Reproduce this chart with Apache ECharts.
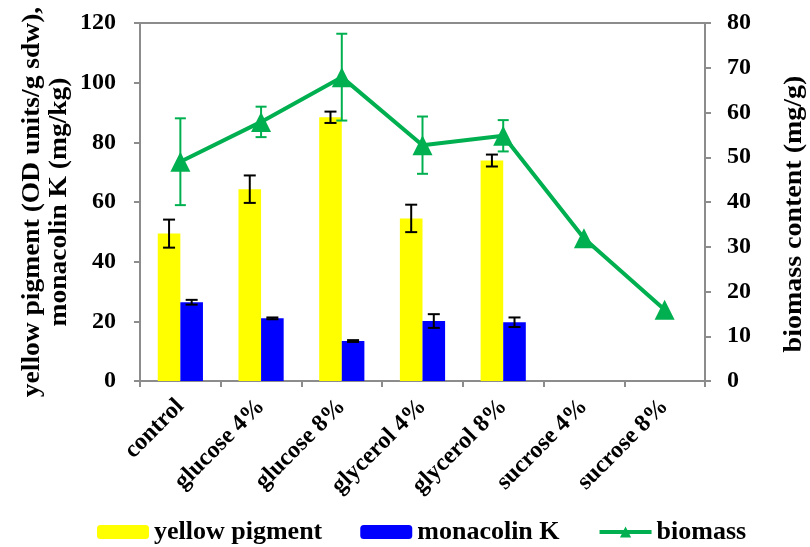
<!DOCTYPE html>
<html><head><meta charset="utf-8">
<script src="https://cdn.jsdelivr.net/npm/echarts@6/dist/echarts.min.js"></script>
<style>html,body{margin:0;padding:0;background:#fff}#c{width:810px;height:547px}</style>
</head><body><div id="c"></div>
<script>
const categories = ['control','glucose 4%','glucose 8%','glycerol 4%','glycerol 8%','sucrose 4%','sucrose 8%'];
const yellowPigment = [49.4, 64.3, 88.4, 54.5, 73.9, null, null];
const yellowErr = [4.7, 4.6, 1.9, 4.6, 2.0, null, null];
const monacolinK = [26.4, 21.0, 13.4, 20.1, 19.7, null, null];
const monacolinErr = [0.8, 0.3, 0.3, 2.3, 1.6, null, null];
const biomass = [49.0, 57.9, 67.9, 52.7, 54.8, 31.9, 15.9];
const biomassErr = [9.7, 3.4, 9.7, 6.4, 3.5, null, null];
const leftTicks = {min: 0, max: 120, interval: 20};
const rightTicks = {min: 0, max: 80, interval: 10};

const FONT = '"Liberation Serif", "Times New Roman", serif';
const AXIS_COLOR = '#8c8c8c';
const GREEN = '#00B050';

function errData(vals, errs) {
  const out = [];
  vals.forEach((v, i) => { if (v != null && errs[i] != null) out.push([i, v, errs[i]]); });
  return out;
}
function errRender(offsetFrac, color, lw, capHalf) {
  return function (params, api) {
    const i = api.value(0), v = api.value(1), e = api.value(2);
    const band = api.size([1, 0])[0];
    const top = api.coord([i, v + e]);
    const bot = api.coord([i, v - e]);
    const x = top[0] + band * offsetFrac;
    const st = {stroke: color, lineWidth: lw};
    return {type: 'group', children: [
      {type: 'line', shape: {x1: x, y1: top[1], x2: x, y2: bot[1]}, style: st},
      {type: 'line', shape: {x1: x - capHalf, y1: top[1], x2: x + capHalf, y2: top[1]}, style: st},
      {type: 'line', shape: {x1: x - capHalf, y1: bot[1], x2: x + capHalf, y2: bot[1]}, style: st}
    ]};
  };
}

const chart = echarts.init(document.getElementById('c'));
chart.setOption({
  animation: false,
  textStyle: {fontFamily: FONT},
  grid: {left: 140, right: 105, top: 23, bottom: 166, show: true, borderColor: AXIS_COLOR, borderWidth: 2},
  legend: {
    left: 92, top: 514, itemWidth: 52, itemHeight: 14, itemGap: 38,
    lineStyle: {width: 4},
    textStyle: {fontFamily: FONT, fontWeight: 'bold', fontSize: 26, color: '#000'},
    data: ['yellow pigment', 'monacolin K', 'biomass']
  },
  xAxis: {
    type: 'category', data: categories, boundaryGap: true,
    axisLine: {lineStyle: {color: AXIS_COLOR, width: 2}},
    axisTick: {show: true, length: 6, lineStyle: {color: AXIS_COLOR, width: 2}},
    axisLabel: {rotate: 45, margin: 22, interval: 0, color: '#000', fontFamily: FONT, fontWeight: 'bold', fontSize: 24}
  },
  yAxis: [
    {type: 'value', min: leftTicks.min, max: leftTicks.max, interval: leftTicks.interval, position: 'left',
     splitLine: {show: false},
     axisLine: {show: true, lineStyle: {color: AXIS_COLOR, width: 2}},
     axisTick: {show: true, length: 6, lineStyle: {color: AXIS_COLOR, width: 2}},
     axisLabel: {margin: 24, color: '#000', fontFamily: FONT, fontWeight: 'bold', fontSize: 24}},
    {type: 'value', min: rightTicks.min, max: rightTicks.max, interval: rightTicks.interval, position: 'right',
     splitLine: {show: false},
     axisLine: {show: true, lineStyle: {color: AXIS_COLOR, width: 2}},
     axisTick: {show: true, length: 6, lineStyle: {color: AXIS_COLOR, width: 2}},
     axisLabel: {margin: 22, color: '#000', fontFamily: FONT, fontWeight: 'bold', fontSize: 24}}
  ],
  graphic: [
    {type: 'text', x: 46, y: 202, rotation: Math.PI / 2, scaleX: 1.1,
     style: {text: 'yellow pigment (OD units/g sdw),\nmonacolin K (mg/kg)', font: 'bold 25px ' + FONT,
             fill: '#000', textAlign: 'center', textVerticalAlign: 'middle', lineHeight: 27}},
    {type: 'text', x: 795, y: 214, rotation: Math.PI / 2, scaleX: 1.12,
     style: {text: 'biomass content (mg/g)', font: 'bold 25px ' + FONT,
             fill: '#000', textAlign: 'center', textVerticalAlign: 'middle'}}
  ],
  series: [
    {name: 'yellow pigment', type: 'bar', data: yellowPigment, barWidth: '28%', barGap: 0,
     itemStyle: {color: '#FFFF00'}, z: 2},
    {name: 'monacolin K', type: 'bar', data: monacolinK, barWidth: '28%', barGap: 0,
     itemStyle: {color: '#0000FF'}, z: 2},
    {type: 'custom', data: errData(yellowPigment, yellowErr), renderItem: errRender(-0.14, '#000', 2, 6), z: 3},
    {type: 'custom', data: errData(monacolinK, monacolinErr), renderItem: errRender(0.14, '#000', 2, 6), z: 3},
    {type: 'custom', yAxisIndex: 1, data: errData(biomass, biomassErr), renderItem: errRender(0, GREEN, 2, 5.5), z: 4},
    {name: 'biomass', type: 'line', yAxisIndex: 1, data: biomass, symbol: 'triangle', symbolSize: 20,
     itemStyle: {color: GREEN}, lineStyle: {color: GREEN, width: 4}, z: 5}
  ]
});
</script></body></html>
